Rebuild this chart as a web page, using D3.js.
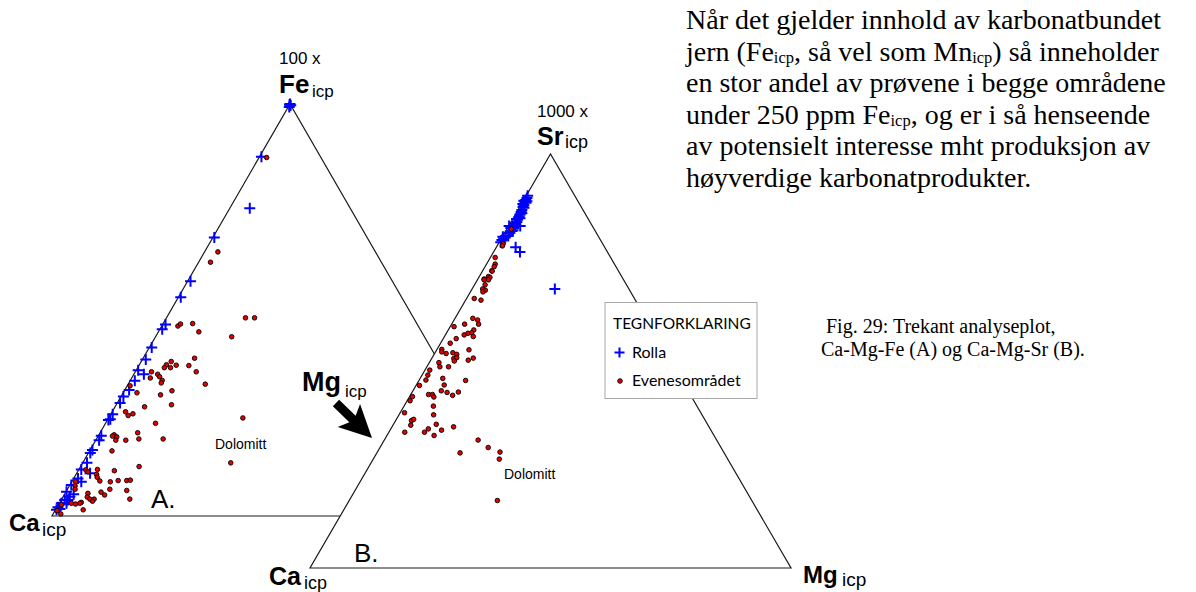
<!DOCTYPE html>
<html>
<head>
<meta charset="utf-8">
<script src="https://cdn.jsdelivr.net/npm/d3@7"></script>
<style>
  html, body { margin: 0; padding: 0; background: #fff; }
  svg { display: block; }
</style>
</head>
<body>
<svg id="chart" width="1196" height="592"></svg>
<script>
// Compositions in percent: [Ca, Mg, top component]
// Plot A: Ca - Mg - 100 x Fe
const rollaA = [
  [0.0, 0.0, 100.0], [0.2, 0.0, 99.8], [0.5, 0.2, 99.3], [0.0, 0.3, 99.7],
  [12.4, 0.4, 87.2], [21.1, 4.2, 74.7], [32.1, 0.3, 67.6], [42.4, 0.6, 57.0],
  [46.4, 0.5, 53.1], [52.9, 0.6, 46.5], [54.2, 0.5, 45.3], [58.6, 0.5, 40.9],
  [61.3, 0.7, 38.0], [64.2, 0.4, 35.4], [63.5, 2.1, 34.4], [66.2, 1.0, 32.8],
  [68.5, 0.9, 30.6], [70.5, 0.5, 29.0], [72.0, 0.6, 27.4], [74.9, 0.4, 24.7],
  [76.0, 0.5, 23.5], [76.5, 0.2, 23.3], [79.9, 0.6, 19.5], [80.9, 0.7, 18.4],
  [83.5, 0.5, 16.0], [84.3, 0.4, 15.3], [86.2, 0.9, 12.9], [88.2, 0.5, 11.3],
  [86.8, 2.8, 10.4], [90.0, 0.9, 9.1], [89.7, 2.0, 8.3], [92.2, 0.3, 7.5],
  [94.0, 0.1, 5.9], [93.9, 1.4, 4.7], [95.4, 0.7, 3.9], [96.5, 0.4, 3.1],
  [97.7, 0.2, 2.1], [98.3, 0.2, 1.5], [95.4, 1.5, 3.1], [92.8, 1.9, 5.3],
  [94.7, 1.4, 3.9], [97.5, 0.8, 1.7]
];
const evenesA = [
  [11.4, 1.6, 87.0], [33.1, 2.8, 64.1], [35.9, 2.5, 61.6], [35.3, 16.6, 48.1],
  [33.4, 18.5, 48.1], [40.5, 16.0, 43.5], [50.5, 3.4, 46.1], [49.7, 3.7, 46.6],
  [47.1, 6.2, 46.7], [46.8, 8.5, 44.7], [56.2, 6.3, 37.5], [57.6, 5.7, 36.7],
  [58.4, 5.6, 36.0], [57.1, 6.9, 36.0], [55.6, 7.8, 36.6], [50.9, 10.8, 38.3],
  [53.0, 10.5, 36.5], [52.2, 12.8, 35.0], [61.6, 3.4, 35.0], [60.6, 5.0, 34.4],
  [60.5, 5.7, 33.8], [62.6, 3.9, 33.5], [60.4, 6.7, 32.9], [60.9, 6.8, 32.3],
  [51.8, 16.2, 32.0], [67.8, 0.6, 31.6], [67.2, 2.9, 29.9], [59.6, 10.0, 30.4],
  [62.5, 8.1, 29.4], [61.4, 11.6, 27.0], [67.3, 6.2, 26.5], [71.9, 2.8, 25.3],
  [71.8, 3.8, 24.4], [70.6, 4.6, 24.8], [48.0, 28.2, 23.8], [67.0, 10.5, 22.5],
  [77.1, 3.2, 19.7], [76.8, 4.0, 19.2], [77.6, 3.0, 19.4], [77.4, 4.2, 18.4],
  [71.9, 7.9, 20.2], [72.4, 8.9, 18.7], [75.3, 6.3, 18.4], [67.3, 14.0, 18.7],
  [79.5, 4.7, 15.8], [56.0, 31.1, 12.9], [75.7, 12.3, 12.0], [81.4, 7.6, 11.0],
  [84.8, 3.9, 11.3], [87.3, 1.5, 11.2], [87.1, 2.2, 10.7], [85.6, 4.3, 10.1],
  [85.8, 4.8, 9.4], [85.7, 5.8, 8.5], [83.6, 8.1, 8.3], [81.8, 9.6, 8.6],
  [80.0, 11.4, 8.6], [79.2, 12.1, 8.7], [90.9, 0.8, 8.3], [91.5, 1.2, 7.3],
  [91.9, 1.6, 6.5], [84.6, 8.9, 6.5], [81.2, 12.6, 6.2], [86.8, 7.4, 5.8],
  [86.4, 8.5, 5.1], [89.7, 4.8, 5.5], [90.3, 5.1, 4.6], [90.0, 5.9, 4.1],
  [89.1, 6.8, 4.1], [89.7, 6.7, 3.6], [81.6, 14.3, 4.1], [92.2, 4.5, 3.3],
  [92.6, 4.3, 3.1], [93.6, 3.5, 2.9], [92.7, 5.8, 1.5], [96.7, 0.6, 2.7],
  [98.3, 0.4, 1.3], [97.9, 1.6, 0.5], [94.4, 2.5, 3.1]
];
// Plot B: Ca - Mg - 1000 x Sr
const rollaB = [
  [9.8, 0.3, 89.9], [10.2, 0.4, 89.4], [10.7, 0.4, 88.9], [11.1, 0.5, 88.4],
  [11.0, 0.8, 88.2], [11.7, 0.6, 87.7], [12.1, 0.7, 87.2], [12.0, 1.0, 87.0],
  [12.7, 0.8, 86.5], [13.1, 0.9, 86.0], [13.1, 1.2, 85.7], [13.7, 1.0, 85.3],
  [14.1, 1.1, 84.8], [14.1, 1.4, 84.5], [14.8, 1.1, 84.1], [15.2, 1.2, 83.6],
  [15.7, 1.2, 83.1], [16.1, 1.3, 82.6], [16.6, 1.3, 82.1], [17.0, 1.4, 81.6],
  [17.3, 1.3, 81.4], [18.0, 1.1, 80.9], [17.3, 0.1, 82.6], [18.7, 1.1, 80.2],
  [19.2, 0.6, 80.2], [19.9, 0.1, 80.0], [20.0, 0.5, 79.5], [20.5, 0.3, 79.2],
  [21.0, 0.3, 78.7], [15.0, 2.4, 82.6], [18.5, 4.0, 77.5], [18.2, 5.5, 76.3],
  [15.4, 17.2, 67.4], [14.9, 0.8, 84.3], [11.8, 0.3, 87.9], [11.2, 0.1, 88.7],
  [17.2, 0.7, 82.1], [10.6, 0.8, 88.6]
];
const evenesB = [
  [17.2, 0.9, 81.9], [20.7, 1.0, 78.3], [21.1, 1.1, 77.8], [24.0, 1.0, 75.0],
  [24.8, 1.8, 73.4], [25.3, 1.9, 72.8], [26.3, 1.9, 71.8], [26.3, 2.0, 71.7],
  [27.7, 1.9, 70.4], [27.5, 2.3, 70.2], [28.9, 1.3, 69.8], [29.0, 1.4, 69.6],
  [28.1, 2.3, 69.6], [29.4, 2.2, 68.4], [30.4, 2.2, 67.4], [30.0, 2.9, 67.1],
  [30.7, 2.6, 66.7], [33.3, 1.6, 65.1], [32.1, 3.2, 64.7], [36.0, 3.7, 60.3],
  [38.4, 2.7, 58.9], [35.2, 4.9, 59.9], [35.5, 5.6, 58.9], [40.9, 0.8, 58.3],
  [37.2, 5.3, 57.5], [39.8, 3.9, 56.3], [38.8, 4.5, 56.7], [38.0, 5.2, 56.8],
  [38.1, 6.0, 55.9], [41.9, 2.7, 55.4], [43.7, 2.0, 54.3], [40.6, 6.7, 52.7],
  [46.2, 1.0, 52.8], [46.5, 1.3, 52.2], [45.8, 2.4, 51.8], [44.3, 3.7, 52.0],
  [43.7, 4.7, 51.6], [44.8, 4.6, 50.6], [44.1, 5.1, 50.8], [45.0, 5.0, 50.0],
  [42.0, 7.8, 50.2], [40.7, 8.6, 50.7], [48.4, 2.0, 49.6], [48.7, 2.7, 48.6],
  [46.9, 4.5, 48.6], [51.2, 1.0, 47.8], [52.2, 1.2, 46.6], [53.2, 1.4, 45.4],
  [49.5, 4.7, 45.8], [45.0, 9.7, 45.3], [50.0, 5.8, 44.2], [55.2, 0.7, 44.1],
  [51.3, 5.9, 42.8], [50.3, 7.3, 42.4], [49.5, 8.8, 41.7], [47.9, 9.6, 42.5],
  [54.4, 3.7, 41.9], [53.6, 4.5, 41.9], [53.6, 5.1, 41.3], [58.0, 0.6, 41.4],
  [59.0, 0.6, 40.4], [54.8, 6.1, 39.1], [61.6, 0.9, 37.5], [55.8, 7.2, 37.0],
  [61.1, 3.3, 35.6], [60.5, 3.6, 35.9], [61.8, 3.7, 34.5], [56.4, 8.9, 34.7],
  [58.6, 7.8, 33.6], [56.0, 10.7, 33.3], [53.1, 12.8, 34.1], [59.8, 7.4, 32.8],
  [63.9, 3.3, 32.8], [58.2, 9.8, 32.0], [49.6, 19.5, 30.9], [48.4, 22.5, 29.1],
  [46.5, 25.5, 28.0], [47.5, 26.2, 26.3], [54.9, 17.3, 27.8], [52.9, 30.8, 16.3]
];
const seriesNames = ["Rolla", "Evenesområdet"];
const legendTitle = "TEGNFORKLARING";
const paragraph = [
  [["Når det gjelder innhold av karbonatbundet", false]],
  [["jern (Fe", false], ["icp", true], [", så vel som Mn", false], ["icp", true], [") så inneholder", false]],
  [["en stor andel av prøvene i begge områdene", false]],
  [["under 250 ppm Fe", false], ["icp", true], [", og er i så henseende", false]],
  [["av potensielt interesse mht produksjon av", false]],
  [["høyverdige karbonatprodukter.", false]]
];
const caption = ["Fig. 29: Trekant analyseplot,", "Ca-Mg-Fe (A) og Ca-Mg-Sr (B)."];

const svg = d3.select("#chart");
const SANS = "'Liberation Sans', Arial, sans-serif";
const SERIF = "'Liberation Serif', 'Times New Roman', serif";
const BLUE = "#0000ff", RED = "#e50000";

// Ternary frame: x scale runs along the Ca-Mg base, y scale up to the apex.
function ternary(x0, x1, yBase, yTop) {
  const x = d3.scaleLinear().domain([0, 100]).range([x0, x1]);
  const y = d3.scaleLinear().domain([0, 100]).range([yBase, yTop]);
  const project = d => [x(d[1] + d[2] / 2), y(d[2])];
  const corners = [[100, 0, 0], [0, 100, 0], [0, 0, 100]].map(project);
  return { x, y, project, corners };
}

const triA = ternary(52, 528, 516, 104);
const triB = ternary(310, 791, 568, 154);

function drawFrame(g, tri, fill) {
  g.append("path")
    .attr("d", d3.line()(tri.corners) + "Z")
    .attr("fill", fill)
    .attr("stroke", "#1a1a1a")
    .attr("stroke-width", 1.2)
    .attr("stroke-linejoin", "miter");
}

function drawPlus(g, data, tri) {
  g.selectAll(null).data(data).join("path")
    .attr("d", d => {
      const [px, py] = tri.project(d);
      return `M${px - 5.5},${py}H${px + 5.5}M${px},${py - 5.5}V${py + 5.5}`;
    })
    .attr("stroke", BLUE)
    .attr("stroke-width", 2)
    .attr("fill", "none");
}

function drawDots(g, data, tri) {
  g.selectAll(null).data(data).join("circle")
    .attr("cx", d => tri.project(d)[0])
    .attr("cy", d => tri.project(d)[1])
    .attr("r", 2.3)
    .attr("fill", RED)
    .attr("stroke", "#000")
    .attr("stroke-width", 0.9);
}

// Plot A
const gA = svg.append("g");
drawFrame(gA, triA, "none");
drawPlus(gA, rollaA, triA);
drawDots(gA, evenesA, triA);

// Plot B sits on top of A with an opaque fill
const gB = svg.append("g");
drawFrame(gB, triB, "#fff");
drawPlus(gB, rollaB, triB);
drawDots(gB, evenesB, triB);

// Text helpers
function label(x, y, txt, size, weight, family, anchor) {
  return svg.append("text")
    .attr("x", x).attr("y", y)
    .attr("font-family", family || SANS)
    .attr("font-size", size)
    .attr("font-weight", weight || "normal")
    .attr("text-anchor", anchor || "start")
    .attr("fill", "#000")
    .text(txt);
}

// Vertex labels, plot A
label(279, 64, "100 x", 17);
label(279, 93, "Fe", 26, "bold");
label(312, 97, "icp", 17);
label(9, 531, "Ca", 24, "bold");
label(42, 536, "icp", 19);
label(151, 508, "A.", 26);
label(215, 449, "Dolomitt", 14);

// Vertex labels, plot B
label(537, 117, "1000 x", 17);
label(537, 145, "Sr", 25, "bold");
label(565, 148, "icp", 18);
label(269, 585, "Ca", 25, "bold");
label(304, 589, "icp", 18);
label(803, 583, "Mg", 24, "bold");
label(842, 586, "icp", 19);
label(354, 562, "B.", 26);
label(504, 479, "Dolomitt", 14);

// Mg label with arrow pointing into plot B
label(302, 391, "Mg", 27, "bold");
label(345, 397, "icp", 17);
{
  const tail = [336, 403], tip = [372, 438];
  const ang = Math.atan2(tip[1] - tail[1], tip[0] - tail[0]) * 180 / Math.PI;
  const len = Math.hypot(tip[0] - tail[0], tip[1] - tail[1]);
  const shape = [[0, -4.5], [23, -4.5], [18, -16], [len, 0], [18, 16], [23, 4.5], [0, 4.5]];
  svg.append("path")
    .attr("d", d3.line()(shape) + "Z")
    .attr("transform", `translate(${tail[0]},${tail[1]}) rotate(${ang})`)
    .attr("fill", "#000");
}

// Legend
{
  const lg = svg.append("g");
  lg.append("rect")
    .attr("x", 605).attr("y", 302.5).attr("width", 152).attr("height", 96)
    .attr("fill", "#fff").attr("stroke", "#a8a8a8").attr("stroke-width", 1);
  const LF = "Lato, 'Open Sans', sans-serif";
  lg.append("text").attr("x", 613).attr("y", 329).attr("font-family", LF)
    .attr("font-size", 15.5).text(legendTitle);
  lg.append("path")
    .attr("d", "M614.5,352.5H624.5M619.5,347.5V357.5")
    .attr("stroke", BLUE).attr("stroke-width", 2);
  lg.append("text").attr("x", 632).attr("y", 357.5).attr("font-family", LF)
    .attr("font-size", 16).text(seriesNames[0]);
  lg.append("circle").attr("cx", 620).attr("cy", 381).attr("r", 2.3)
    .attr("fill", RED).attr("stroke", "#000").attr("stroke-width", 0.9);
  lg.append("text").attr("x", 632).attr("y", 386).attr("font-family", LF)
    .attr("font-size", 16).text(seriesNames[1]);
}

// Paragraph text with subscripts
paragraph.forEach((line, i) => {
  const t = svg.append("text")
    .attr("x", 686).attr("y", 29 + i * 31.5)
    .attr("font-family", SERIF)
    .attr("font-size", 28)
    .attr("fill", "#000");
  let inSub = false;
  line.forEach(([s, sub]) => {
    const ts = t.append("tspan").text(s);
    if (sub && !inSub) ts.attr("font-size", 16.5).attr("dy", 2.8);
    else if (!sub && inSub) ts.attr("dy", -2.8);
    inSub = sub;
  });
});

// Figure caption
caption.forEach((s, i) => {
  svg.append("text")
    .attr("x", i === 0 ? 826 : 821).attr("y", 333 + i * 23)
    .attr("font-family", SERIF).attr("font-size", 20)
    .text(s);
});
</script>
</body>
</html>
